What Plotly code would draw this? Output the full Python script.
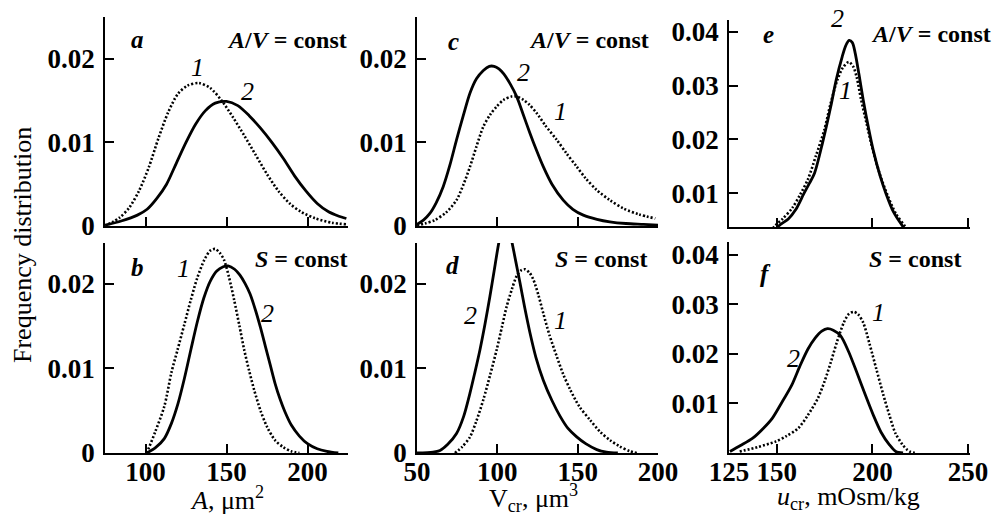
import plotly.graph_objects as go

W, H = 996, 515

# ---------------- data ----------------
a1_x = [77, 84, 90, 96, 102, 108, 114, 120, 126, 133, 140, 147, 154, 161, 168, 175, 182, 189, 196, 205, 215, 224]
a1_y = [0.0002, 0.0010, 0.0022, 0.0042, 0.0070, 0.0105, 0.0136, 0.0158, 0.0168, 0.0171, 0.0165, 0.0150, 0.0130,
        0.0108, 0.0085, 0.0062, 0.0042, 0.0027, 0.0017, 0.0009, 0.0004, 0.0002]
a2_x = [75, 85, 95, 101, 107, 113, 119, 125, 131, 137, 143, 150, 157, 164, 171, 178, 185, 192, 199, 206, 213, 219, 224]
a2_y = [0.0001, 0.0006, 0.0013, 0.0020, 0.0033, 0.0050, 0.0075, 0.0100, 0.0122, 0.0138, 0.0147, 0.0149, 0.0144,
        0.0132, 0.0117, 0.0100, 0.0081, 0.0060, 0.0042, 0.0027, 0.0017, 0.0012, 0.0009]

b1_x = [100.7, 102.3, 106, 111.6, 116, 119.8, 124, 128, 132, 136.3, 140, 143, 146, 148.5, 151.5, 154.7, 158, 160.9,
        164, 167, 171, 175, 180, 185, 190, 195]
b1_y = [0.0, 0.0007, 0.0025, 0.0055, 0.0095, 0.0122, 0.0152, 0.0181, 0.0207, 0.0228, 0.0239, 0.0241, 0.0236, 0.0228,
        0.0208, 0.0181, 0.0150, 0.0122, 0.0097, 0.0075, 0.0050, 0.0031, 0.0015, 0.0007, 0.0002, 0.0]
b2_x = [100.7, 106, 111.6, 116, 120, 124, 128, 132, 136, 140, 144, 148, 151, 155, 158.3, 161.5, 164.5, 168, 171, 174,
        177, 180, 183, 186, 190, 195, 200, 206, 212, 219]
b2_y = [0.0, 0.0006, 0.0017, 0.0035, 0.0058, 0.0088, 0.0122, 0.0155, 0.0183, 0.0203, 0.0215, 0.0220, 0.0221, 0.0217,
        0.0210, 0.0200, 0.0188, 0.0168, 0.0148, 0.0126, 0.0104, 0.0082, 0.0064, 0.0049, 0.0033, 0.0020, 0.0011,
        0.0005, 0.0002, 0.0]

c1_x = [50, 55, 61, 68, 74.6, 79, 83, 87, 91.3, 95.5, 99.6, 104, 108.9, 112, 116.2, 120, 124.5, 130, 137, 143, 149.4,
        155, 161.9, 170, 178.5, 188, 198.3]
c1_y = [0.0001, 0.0003, 0.0007, 0.0016, 0.0031, 0.0050, 0.0071, 0.0095, 0.0119, 0.0133, 0.0143, 0.0151, 0.0155,
        0.0155, 0.0151, 0.0145, 0.0135, 0.0120, 0.0103, 0.0087, 0.0071, 0.0057, 0.0043, 0.0031, 0.0021, 0.0014, 0.0009]
c2_x = [50, 54, 58, 62, 66.3, 70.5, 74.6, 78.8, 83, 87, 91.3, 95, 98, 101, 104, 108, 112, 116, 120.3, 124.5, 128.6,
        134, 141, 147, 153.5, 162, 170, 180, 191, 200]
c2_y = [0.0002, 0.0007, 0.0015, 0.0028, 0.0047, 0.0073, 0.0103, 0.0132, 0.0159, 0.0176, 0.0186, 0.0191, 0.0191,
        0.0188, 0.0182, 0.0170, 0.0155, 0.0134, 0.0111, 0.0090, 0.0071, 0.0050, 0.0031, 0.0020, 0.0013, 0.0008,
        0.0005, 0.0003, 0.0002, 0.0001]

d1_x = [73.6, 78, 83, 87, 91.3, 95.5, 99.6, 103, 105.8, 109, 112, 115, 117.2, 120, 122.4, 125.5, 128.6, 132.5, 137,
        141, 145.3, 151, 157.7, 164, 170.2, 176, 182.6, 187]
d1_y = [0.0, 0.0007, 0.0019, 0.0038, 0.0063, 0.0092, 0.0122, 0.0150, 0.0173, 0.0193, 0.0209, 0.0216, 0.0217, 0.0213,
        0.0205, 0.0187, 0.0165, 0.0139, 0.0114, 0.0093, 0.0075, 0.0055, 0.0039, 0.0025, 0.0015, 0.0008, 0.0002, 0.0]
d2_x = [50, 60, 64.3, 69, 74.6, 79, 83, 86, 89.2, 92.3, 95.4, 98, 100.6, 103, 105, 107, 109, 111.5, 114.1, 117,
        120.3, 124, 128.6, 134, 139.2, 144, 149.4, 155, 161.9, 168, 175]
d2_y = [0.0, 0.0001, 0.0003, 0.0010, 0.0023, 0.0043, 0.0071, 0.0095, 0.0122, 0.0152, 0.0185, 0.0215, 0.0245, 0.0268,
        0.0275, 0.0268, 0.0250, 0.0226, 0.0201, 0.0172, 0.0142, 0.0113, 0.0086, 0.0062, 0.0043, 0.0029, 0.0019,
        0.0011, 0.0004, 0.0001, 0.0]

e1_x = [140, 145, 149.3, 153, 158, 162, 166.3, 170.5, 174.8, 178, 181.6, 184.5, 187.6, 190, 191.8, 194, 196.9, 200,
        203.7, 208, 212.2, 217.3, 222, 228]
e1_y = [0.0, 0.0022, 0.0040, 0.0052, 0.0072, 0.0096, 0.0126, 0.0170, 0.0217, 0.0265, 0.0310, 0.0333, 0.0344, 0.0335,
        0.0315, 0.0275, 0.0230, 0.0183, 0.0137, 0.0095, 0.0062, 0.0037, 0.0015, 0.0]
e2_x = [140, 146, 151, 156, 160, 164, 167, 169.7, 174, 178.2, 181, 184.2, 186, 187.8, 189.5, 191, 193, 195.2, 198,
        200.4, 204, 207.1, 211, 215.7, 221, 227]
e2_y = [0.0, 0.0018, 0.0039, 0.0052, 0.0070, 0.0098, 0.0118, 0.0137, 0.0195, 0.0261, 0.0310, 0.0354, 0.0374, 0.0384,
        0.0380, 0.0360, 0.0320, 0.0273, 0.0220, 0.0180, 0.0132, 0.0099, 0.0065, 0.0039, 0.0015, 0.0]

f1_x = [130.6, 140, 149.3, 155, 161.2, 166, 171.4, 175, 178.2, 181.5, 185, 187.5, 190.1, 192.5, 195.2, 198.5, 202,
        205.5, 208.8, 212, 215.7, 218, 220, 223]
f1_y = [0.0003, 0.0012, 0.0023, 0.0034, 0.0050, 0.0075, 0.0110, 0.0145, 0.0183, 0.0225, 0.0263, 0.0280, 0.0285,
        0.0280, 0.0263, 0.0220, 0.0170, 0.0120, 0.0077, 0.0040, 0.0017, 0.0007, 0.0002, 0.0]
f2_x = [125.5, 131, 137.4, 143, 147.6, 152, 157.8, 162, 166.3, 170, 173.5, 176.5, 179.5, 183.3, 187.5, 191.8, 196,
        200.4, 204.5, 208.8, 212.2, 216]
f2_y = [0.0003, 0.0015, 0.0030, 0.0050, 0.0070, 0.0098, 0.0137, 0.0175, 0.0210, 0.0232, 0.0246, 0.0251, 0.0248,
        0.0237, 0.0205, 0.0163, 0.0120, 0.0077, 0.0042, 0.0017, 0.0003, 0.0]

ab_xticks = [100, 150, 200]
cd_xticks = [50, 100, 150, 200]
ef_xticks = [150, 200, 250]
f_xticklabels = ["125", "150", "200", "250"]
low_yticks = [0, 0.01, 0.02]
low_yticklabels = ["0", "0.01", "0.02"]
u_yticks = [0.01, 0.02, 0.03, 0.04]
u_yticklabels = ["0.01", "0.02", "0.03", "0.04"]

FONT = "Liberation Serif"


def px_x(p):
    return p / W


def px_y(p):
    return 1 - p / H


boxes = {
    1: (105, 348, 17, 226),
    2: (105, 348, 243, 453),
    3: (417, 658, 17, 226),
    4: (417, 658, 243, 453),
    5: (729, 970, 20, 227),
    6: (729, 970, 242, 453),
}

fig = go.Figure()

series = [
    (1, a1_x, a1_y, a2_x, a2_y),
    (2, b1_x, b1_y, b2_x, b2_y),
    (3, c1_x, c1_y, c2_x, c2_y),
    (4, d1_x, d1_y, d2_x, d2_y),
    (5, e1_x, e1_y, e2_x, e2_y),
    (6, f1_x, f1_y, f2_x, f2_y),
]
for k, x1, y1, x2, y2 in series:
    xa = "x" if k == 1 else f"x{k}"
    ya = "y" if k == 1 else f"y{k}"
    fig.add_trace(go.Scatter(x=x1, y=y1, mode="lines", xaxis=xa, yaxis=ya,
                             line=dict(color="black", width=2.6, dash="2px,2px", shape="spline", smoothing=0.8),
                             showlegend=False, hoverinfo="skip"))
    fig.add_trace(go.Scatter(x=x2, y=y2, mode="lines", xaxis=xa, yaxis=ya,
                             line=dict(color="black", width=2.8, shape="spline", smoothing=0.8),
                             showlegend=False, hoverinfo="skip"))

tickfont = dict(family=FONT, size=27, color="black", weight="bold")
axis_common = dict(showline=True, linecolor="black", linewidth=1.6, ticks="inside", ticklen=9,
                   tickwidth=1.5, tickcolor="black", showgrid=False, zeroline=False,
                   tickfont=tickfont, fixedrange=True, automargin=False)

xranges = {1: [75, 225], 2: [75, 225], 3: [50, 200], 4: [50, 200], 5: [125, 251], 6: [125, 251]}
yranges = {1: [0, 0.025], 2: [0, 0.0248], 3: [0, 0.025], 4: [0, 0.0248], 5: [0.0037, 0.0422], 6: [0, 0.0426]}
xtickvals = {1: ab_xticks, 2: ab_xticks, 3: cd_xticks, 4: cd_xticks, 5: ef_xticks, 6: [125] + ef_xticks}
xticktext = {1: None, 2: [str(v) for v in ab_xticks], 3: None, 4: [str(v) for v in cd_xticks],
             5: None, 6: f_xticklabels}

layout = {}
for k, (l, r, t, b) in boxes.items():
    xn = "xaxis" if k == 1 else f"xaxis{k}"
    yn = "yaxis" if k == 1 else f"yaxis{k}"
    xa = "x" if k == 1 else f"x{k}"
    ya = "y" if k == 1 else f"y{k}"
    if k in (5, 6):
        yt, ytt = u_yticks, u_yticklabels
    else:
        yt, ytt = low_yticks, low_yticklabels
    xd = dict(axis_common, domain=[px_x(l), px_x(r)], range=xranges[k], anchor=ya,
              tickvals=xtickvals[k], ticklabelstandoff=-6)
    if xticktext[k] is None:
        xd["showticklabels"] = False
    else:
        xd["ticktext"] = xticktext[k]
    layout[xn] = xd
    layout[yn] = dict(axis_common, domain=[px_y(b), px_y(t)], range=yranges[k], anchor=xa,
                      tickvals=yt, ticktext=ytt, ticklabelstandoff=3)

fig.update_layout(**layout)

annots = []


def add_text(text, x, y, size=24, xanchor="center", italic=False, bold=True):
    annots.append(dict(text=text, x=px_x(x), y=px_y(y), xref="paper", yref="paper", showarrow=False,
                       xanchor=xanchor, yanchor="middle",
                       font=dict(family=FONT, size=size, color="black", weight="bold" if bold else "normal",
                                 style="italic" if italic else "normal")))


AV = "<i>A</i>/<i>V</i> = const"
S = "<i>S</i> = const"
add_text("a", 137, 40, italic=True, size=25)
add_text(AV, 349, 40, xanchor="right")
add_text("1", 197, 67, italic=True, bold=False, size=26)
add_text("2", 247, 91, italic=True, bold=False, size=26)
add_text("b", 137, 267, italic=True, size=25)
add_text(S, 349, 259, xanchor="right")
add_text("1", 183, 268, italic=True, bold=False, size=26)
add_text("2", 267, 313, italic=True, bold=False, size=26)
add_text("c", 453, 41, italic=True, size=25)
add_text(AV, 651, 40, xanchor="right")
add_text("2", 523, 72, italic=True, bold=False, size=26)
add_text("1", 560, 111, italic=True, bold=False, size=26)
add_text("d", 452, 265, italic=True, size=25)
add_text(S, 649, 259, xanchor="right")
add_text("2", 470, 315, italic=True, bold=False, size=26)
add_text("1", 560, 320, italic=True, bold=False, size=26)
add_text("e", 768, 35, italic=True, size=25)
add_text("2", 837, 18, italic=True, bold=False, size=26)
add_text(AV, 993, 34, xanchor="right")
add_text("1", 845, 90, italic=True, bold=False, size=26)
add_text("f", 765, 273, italic=True, size=25)
add_text(S, 867, 259, xanchor="left")
add_text("1", 878, 312, italic=True, bold=False, size=26)
add_text("2", 793, 358, italic=True, bold=False, size=26)

add_text("<i>A</i>, μm<sup>2</sup>", 227, 498, bold=False, size=26)
add_text("V<sub>cr</sub>, μm<sup>3</sup>", 533, 498, bold=False, size=26)
add_text("<i>u</i><sub>cr</sub>, mOsm/kg", 848, 498, bold=False, size=26)
annots.append(dict(text="Frequency distribution", x=px_x(22), y=px_y(245), xref="paper", yref="paper",
                   showarrow=False, textangle=-90, xanchor="center", yanchor="middle",
                   font=dict(family=FONT, size=26, color="black")))

fig.update_layout(annotations=annots, width=W, height=H, margin=dict(l=0, r=0, t=0, b=0, autoexpand=False),
                  paper_bgcolor="white", plot_bgcolor="white", showlegend=False)

fig.write_html("out.html", config={"displayModeBar": False})
